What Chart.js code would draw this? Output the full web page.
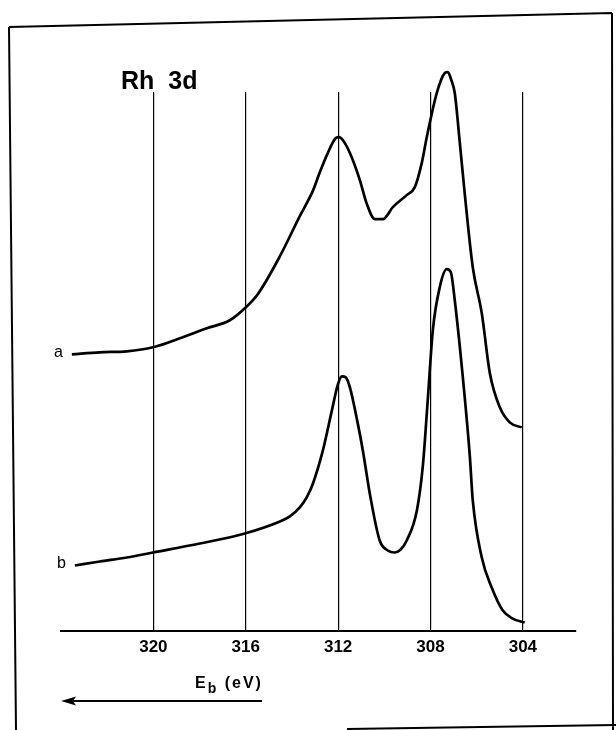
<!DOCTYPE html>
<html><head><meta charset="utf-8">
<script src="https://cdn.jsdelivr.net/npm/chart.js@4/dist/chart.umd.min.js"></script>
<style>html,body{margin:0;padding:0;background:#fff;}#wrap{position:relative;width:616px;height:730px;background:#fff;}</style>
</head><body><div id="wrap"><canvas id="c" width="616" height="730"></canvas></div>
<script>
// Binding energy (eV) and intensity (arbitrary units)
const energyA = [323.53, 322.32, 321.15, 320.02, 318.85, 317.68, 316.69, 316.04, 315.48, 314.52,
                 313.66, 313.08, 312.79, 312.45, 312.10, 311.96, 311.80, 311.49, 311.06, 310.77,
                 310.41, 310.06, 309.63, 309.03, 308.68, 308.38, 308.16, 307.73, 307.38, 307.25,
                 307.10, 306.95, 306.73, 306.52, 306.17, 305.78, 305.43, 305.00, 304.57, 304.05];
const intensityA = [276, 278, 279, 283, 292, 302, 310, 322, 336, 374,
                    414, 440, 458, 477, 492, 493, 490, 477, 450, 427,
                    411, 411, 423, 435, 443, 467, 493, 537, 557, 558,
                    550, 537, 487, 437, 363, 317, 257, 223, 208, 203];
const energyB = [323.40, 322.32, 321.15, 320.02, 317.99, 316.04, 314.52, 314.09, 313.66, 313.36,
                 313.09, 312.66, 312.27, 312.01, 311.84, 311.67, 311.49, 311.15, 310.93, 310.63,
                 310.20, 309.85, 309.55, 309.29, 309.03, 308.59, 308.33, 308.12, 307.90, 307.60,
                 307.30, 307.12, 306.95, 306.60, 306.30, 306.17, 305.78, 305.35, 304.87, 304.44, 303.92];
const intensityB = [65, 69, 73, 78, 87, 97, 109, 114, 123, 133,
                    147, 180, 220, 246, 254, 253, 243, 207, 180, 137,
                    90, 80, 78, 81, 90, 120, 165, 230, 300, 343,
                    361, 358, 330, 253, 175, 130, 73, 43, 20, 12, 8];
const tickValues = [320, 316, 312, 308, 304];
const tickLabels = ['320', '316', '312', '308', '304'];
const seriesLabels = ['a', 'b'];
const titleText = 'Rh 3d';
const axisTitleMain = 'E';
const axisTitleSub = 'b';
const axisTitleUnit = ' (eV)';

const FONT = '"Liberation Sans", Arial, Helvetica, sans-serif';

const decor = {
  id: 'decor',
  afterDraw(chart) {
    const ctx = chart.ctx;
    const xs = chart.scales.x, ys = chart.scales.y;
    ctx.save();
    // frame (scanned page border)
    ctx.strokeStyle = '#000';
    ctx.lineWidth = 2;
    ctx.beginPath();
    ctx.moveTo(9, 27); ctx.lineTo(612, 13);
    ctx.moveTo(9, 27); ctx.lineTo(16, 730);
    ctx.moveTo(612, 13); ctx.lineTo(613, 730);
    ctx.moveTo(347, 729); ctx.lineTo(616, 725);
    ctx.stroke();
    // title
    ctx.fillStyle = '#000';
    ctx.font = 'bold 25px ' + FONT;
    ctx.textBaseline = 'alphabetic';
    ctx.textAlign = 'left';
    ctx.wordSpacing = '7px';
    ctx.fillText(titleText, 121, 89);
    ctx.wordSpacing = '0px';
    // series labels next to the start of each curve
    ctx.font = '16px ' + FONT;
    ctx.textAlign = 'right';
    ctx.textBaseline = 'middle';
    chart.data.datasets.forEach((ds, i) => {
      const p = ds.data[0];
      ctx.fillText(seriesLabels[i], xs.getPixelForValue(p.x) - 9, ys.getPixelForValue(p.y) - 2);
    });
    // axis title with arrow
    const tx = 195, ty = 688;
    ctx.textAlign = 'left';
    ctx.textBaseline = 'alphabetic';
    ctx.letterSpacing = '2px';
    ctx.font = 'bold 16px ' + FONT;
    ctx.fillText(axisTitleMain, tx, ty);
    let w = ctx.measureText(axisTitleMain).width;
    ctx.font = 'bold 14px ' + FONT;
    ctx.fillText(axisTitleSub, tx + w, ty + 5);
    w += ctx.measureText(axisTitleSub).width;
    ctx.font = 'bold 16px ' + FONT;
    ctx.fillText(axisTitleUnit, tx + w, ty);
    ctx.letterSpacing = '0px';
    ctx.lineWidth = 1.8;
    ctx.beginPath();
    ctx.moveTo(262, 701); ctx.lineTo(64, 701);
    ctx.stroke();
    ctx.beginPath();
    ctx.moveTo(61, 701); ctx.lineTo(76, 696.5); ctx.lineTo(73, 701); ctx.lineTo(76, 705.5); ctx.closePath();
    ctx.fill();
    ctx.restore();
  }
};

const mk = (ex, iy) => ex.map((e, i) => ({x: e, y: iy[i]}));

new Chart(document.getElementById('c').getContext('2d'), {
  type: 'line',
  data: {
    datasets: [
      {label: seriesLabels[0], data: mk(energyA, intensityA), borderColor: '#000', borderWidth: 2.7,
       pointRadius: 0, fill: false, cubicInterpolationMode: 'monotone', clip: false},
      {label: seriesLabels[1], data: mk(energyB, intensityB), borderColor: '#000', borderWidth: 2.7,
       pointRadius: 0, fill: false, cubicInterpolationMode: 'monotone', clip: false}
    ]
  },
  options: {
    responsive: false,
    animation: false,
    devicePixelRatio: 1,
    layout: {padding: {left: 61, right: 40, top: 92, bottom: 65}},
    plugins: {legend: {display: false}, tooltip: {enabled: false}, title: {display: false}},
    scales: {
      x: {
        type: 'linear', reverse: true, min: 301.7, max: 324.0,
        afterBuildTicks: (s) => { s.ticks = tickValues.map(v => ({value: v})); },
        ticks: {color: '#000', padding: 7, maxRotation: 0, autoSkip: false,
                font: {family: FONT, size: 17, weight: 'bold'},
                callback: (v, i) => tickLabels[i]},
        grid: {display: true, drawOnChartArea: true, drawTicks: false, color: '#000', lineWidth: 1.2},
        border: {display: true, color: '#000', width: 2}
      },
      y: {display: false, min: 0, max: 538}
    }
  },
  plugins: [decor]
});
</script>
</body></html>
